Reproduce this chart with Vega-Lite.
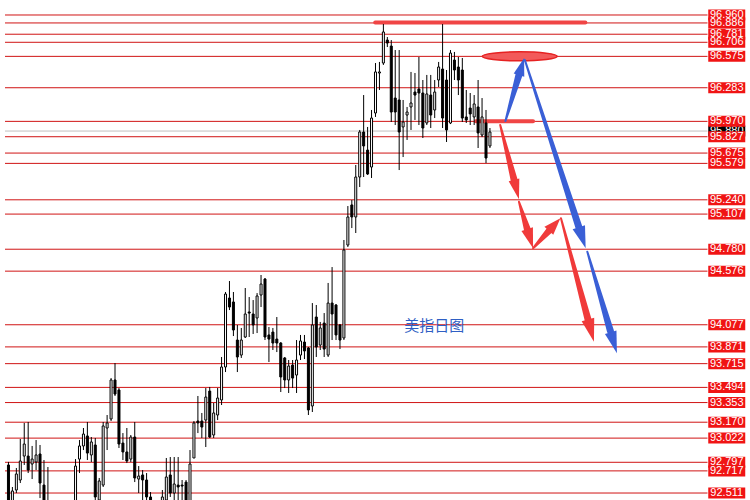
{
"$schema": "https://vega.github.io/schema/vega-lite/v6.json",
"width": 750, "height": 500, "padding": 0, "autosize": {"type": "none"},
"background": "white",
"config": {"view": {"stroke": null}},
"datasets": {
"levels": [{"v":92.511},{"v":92.717},{"v":92.797},{"v":93.022},{"v":93.170},{"v":93.353},{"v":93.494},{"v":93.715},{"v":93.871},{"v":94.077},{"v":94.576},{"v":94.780},{"v":95.107},{"v":95.240},{"v":95.579},{"v":95.675},{"v":95.827},{"v":95.970},{"v":96.283},{"v":96.575},{"v":96.706},{"v":96.781},{"v":96.886},{"v":96.960}],
"current": [{"v":95.880}],
"zones": [{"x1":92.925,"x2":146.175,"v":96.890},{"x1":118.425,"x2":132.925,"v":95.970}],
"target": [{"x":129.55,"v":96.575}],
"note": [{"x":107.875,"v":94.065,"t":"美指日图"}],
"arrows": [
{"arrow":"b1","scenario":"rebound","seq":0,"part":"tail","x":125.925,"p":95.973},
{"arrow":"b1","scenario":"rebound","seq":1,"part":"neck","x":129.325,"p":96.400},
{"arrow":"b1","scenario":"rebound","seq":2,"part":"tip","x":130.675,"p":96.560},
{"arrow":"b2","scenario":"rebound","seq":0,"part":"tail","x":130.85,"p":96.541},
{"arrow":"b2","scenario":"rebound","seq":1,"part":"neck","x":144.55,"p":94.983},
{"arrow":"b2","scenario":"rebound","seq":2,"part":"tip","x":146.25,"p":94.789},
{"arrow":"b3","scenario":"rebound","seq":0,"part":"tail","x":146.675,"p":94.757},
{"arrow":"b3","scenario":"rebound","seq":1,"part":"neck","x":152.525,"p":94.019},
{"arrow":"b3","scenario":"rebound","seq":2,"part":"tip","x":154.175,"p":93.811},
{"arrow":"r1","scenario":"drop","seq":0,"part":"tail","x":124.6,"p":95.936},
{"arrow":"r1","scenario":"drop","seq":1,"part":"neck","x":128.15,"p":95.421},
{"arrow":"r1","scenario":"drop","seq":2,"part":"tip","x":129.35,"p":95.245},
{"arrow":"r2","scenario":"drop","seq":0,"part":"tail","x":129.35,"p":95.222},
{"arrow":"r2","scenario":"drop","seq":1,"part":"neck","x":131.525,"p":94.958},
{"arrow":"r2","scenario":"drop","seq":2,"part":"tip","x":132.925,"p":94.789},
{"arrow":"r3","scenario":"drop","seq":0,"part":"tail","x":132.925,"p":94.789},
{"arrow":"r3","scenario":"drop","seq":1,"part":"neck","x":137.15,"p":94.959},
{"arrow":"r3","scenario":"drop","seq":2,"part":"tip","x":139.85,"p":95.068},
{"arrow":"r4","scenario":"drop","seq":0,"part":"tail","x":140.0,"p":95.068},
{"arrow":"r4","scenario":"drop","seq":1,"part":"neck","x":146.925,"p":94.115},
{"arrow":"r4","scenario":"drop","seq":2,"part":"tip","x":148.35,"p":93.919}
],
"candles": [
{"i":0,"o":92.772,"h":92.800,"l":92.334,"c":92.399},
{"i":1,"o":92.390,"h":92.567,"l":92.353,"c":92.530},
{"i":2,"o":92.539,"h":92.744,"l":92.511,"c":92.688},
{"i":3,"o":92.632,"h":93.014,"l":92.604,"c":92.809},
{"i":4,"o":92.855,"h":93.163,"l":92.772,"c":92.967},
{"i":5,"o":92.855,"h":93.172,"l":92.697,"c":92.725},
{"i":6,"o":92.781,"h":92.949,"l":92.641,"c":92.827},
{"i":7,"o":92.800,"h":93.004,"l":92.725,"c":92.865},
{"i":8,"o":92.874,"h":92.958,"l":92.464,"c":92.604},
{"i":9,"o":92.585,"h":92.818,"l":92.353,"c":92.399},
{"i":10,"o":92.399,"h":92.753,"l":92.260,"c":92.334},
{"i":11,"o":92.334,"h":92.399,"l":92.167,"c":92.241},
{"i":12,"o":92.241,"h":92.353,"l":92.074,"c":92.148},
{"i":13,"o":92.148,"h":92.334,"l":92.027,"c":92.278},
{"i":14,"o":92.278,"h":92.371,"l":92.120,"c":92.194},
{"i":15,"o":92.194,"h":92.362,"l":92.074,"c":92.316},
{"i":16,"o":92.316,"h":92.409,"l":92.185,"c":92.353},
{"i":17,"o":92.371,"h":92.827,"l":92.334,"c":92.762},
{"i":18,"o":92.827,"h":93.004,"l":92.697,"c":92.949},
{"i":19,"o":92.949,"h":93.116,"l":92.911,"c":93.060},
{"i":20,"o":93.042,"h":93.172,"l":92.818,"c":92.883},
{"i":21,"o":92.865,"h":93.032,"l":92.800,"c":92.986},
{"i":22,"o":92.958,"h":93.023,"l":92.427,"c":92.474},
{"i":23,"o":92.446,"h":92.651,"l":92.399,"c":92.623},
{"i":24,"o":92.585,"h":93.172,"l":92.567,"c":93.135},
{"i":25,"o":93.116,"h":93.237,"l":92.911,"c":93.163},
{"i":26,"o":93.200,"h":93.581,"l":93.181,"c":93.563},
{"i":27,"o":93.563,"h":93.721,"l":93.414,"c":93.432},
{"i":28,"o":93.470,"h":93.488,"l":92.930,"c":92.967},
{"i":29,"o":92.976,"h":93.069,"l":92.818,"c":92.893},
{"i":30,"o":92.893,"h":93.116,"l":92.790,"c":92.809},
{"i":31,"o":92.827,"h":93.051,"l":92.800,"c":93.032},
{"i":32,"o":93.032,"h":93.172,"l":92.613,"c":92.651},
{"i":33,"o":92.641,"h":92.762,"l":92.511,"c":92.669},
{"i":34,"o":92.679,"h":92.725,"l":92.446,"c":92.632},
{"i":35,"o":92.632,"h":92.697,"l":92.418,"c":92.474},
{"i":36,"o":92.474,"h":92.520,"l":92.353,"c":92.399},
{"i":37,"o":92.399,"h":92.418,"l":92.278,"c":92.334},
{"i":38,"o":92.334,"h":92.409,"l":92.260,"c":92.390},
{"i":39,"o":92.390,"h":92.539,"l":92.353,"c":92.474},
{"i":40,"o":92.446,"h":92.837,"l":92.418,"c":92.660},
{"i":41,"o":92.679,"h":92.846,"l":92.474,"c":92.511},
{"i":42,"o":92.511,"h":92.846,"l":92.446,"c":92.595},
{"i":43,"o":92.585,"h":92.846,"l":92.446,"c":92.567},
{"i":44,"o":92.585,"h":92.632,"l":92.446,"c":92.576},
{"i":45,"o":92.613,"h":92.632,"l":92.399,"c":92.446},
{"i":46,"o":92.427,"h":92.911,"l":92.399,"c":92.781},
{"i":47,"o":92.837,"h":93.181,"l":92.837,"c":93.163},
{"i":48,"o":93.181,"h":93.414,"l":93.069,"c":93.163},
{"i":49,"o":93.181,"h":93.256,"l":93.023,"c":93.125},
{"i":50,"o":93.190,"h":93.488,"l":92.939,"c":93.404},
{"i":51,"o":93.460,"h":93.498,"l":93.023,"c":93.032},
{"i":52,"o":93.051,"h":93.349,"l":93.023,"c":93.256},
{"i":53,"o":93.237,"h":93.488,"l":93.190,"c":93.395},
{"i":54,"o":93.377,"h":93.777,"l":93.330,"c":93.684},
{"i":55,"o":93.684,"h":94.382,"l":93.637,"c":94.363},
{"i":56,"o":94.326,"h":94.484,"l":94.214,"c":94.242},
{"i":57,"o":94.289,"h":94.382,"l":93.972,"c":94.028},
{"i":58,"o":93.935,"h":94.075,"l":93.637,"c":93.777},
{"i":59,"o":93.795,"h":94.047,"l":93.768,"c":93.935},
{"i":60,"o":93.963,"h":94.419,"l":93.954,"c":94.177},
{"i":61,"o":94.196,"h":94.335,"l":93.963,"c":94.186},
{"i":62,"o":94.177,"h":94.307,"l":93.991,"c":94.075},
{"i":63,"o":94.140,"h":94.372,"l":94.000,"c":94.345},
{"i":64,"o":94.354,"h":94.540,"l":94.242,"c":94.456},
{"i":65,"o":94.503,"h":94.512,"l":93.935,"c":93.963},
{"i":66,"o":93.982,"h":94.056,"l":93.730,"c":93.944},
{"i":67,"o":94.009,"h":94.047,"l":93.842,"c":93.907},
{"i":68,"o":93.944,"h":94.149,"l":93.823,"c":93.907},
{"i":69,"o":93.907,"h":93.916,"l":93.451,"c":93.591},
{"i":70,"o":93.768,"h":93.777,"l":93.488,"c":93.563},
{"i":71,"o":93.563,"h":93.749,"l":93.442,"c":93.693},
{"i":72,"o":93.702,"h":93.749,"l":93.488,"c":93.581},
{"i":73,"o":93.609,"h":93.935,"l":93.442,"c":93.749},
{"i":74,"o":93.795,"h":93.982,"l":93.749,"c":93.926},
{"i":75,"o":93.916,"h":93.982,"l":93.758,"c":93.833},
{"i":76,"o":93.861,"h":93.870,"l":93.237,"c":93.284},
{"i":77,"o":93.321,"h":94.279,"l":93.265,"c":94.075},
{"i":78,"o":94.149,"h":94.261,"l":93.777,"c":93.870},
{"i":79,"o":93.888,"h":94.103,"l":93.842,"c":94.047},
{"i":80,"o":94.093,"h":94.186,"l":93.777,"c":93.851},
{"i":81,"o":93.795,"h":94.466,"l":93.777,"c":94.279},
{"i":82,"o":94.279,"h":94.614,"l":93.935,"c":94.177},
{"i":83,"o":94.261,"h":94.270,"l":93.935,"c":93.982},
{"i":84,"o":94.075,"h":94.084,"l":93.851,"c":93.935},
{"i":85,"o":93.954,"h":94.866,"l":93.935,"c":94.773},
{"i":86,"o":94.819,"h":95.182,"l":94.801,"c":95.080},
{"i":87,"o":95.192,"h":95.238,"l":94.977,"c":95.080},
{"i":88,"o":95.080,"h":95.564,"l":94.931,"c":95.452},
{"i":89,"o":95.452,"h":95.890,"l":95.359,"c":95.871},
{"i":90,"o":95.871,"h":96.215,"l":95.452,"c":95.741},
{"i":91,"o":95.703,"h":95.918,"l":95.471,"c":95.480},
{"i":92,"o":95.545,"h":96.076,"l":95.443,"c":96.001},
{"i":93,"o":96.048,"h":96.513,"l":96.011,"c":96.430},
{"i":94,"o":96.420,"h":96.523,"l":96.262,"c":96.430},
{"i":95,"o":96.513,"h":96.876,"l":96.495,"c":96.802},
{"i":96,"o":96.727,"h":96.755,"l":96.662,"c":96.699},
{"i":97,"o":96.671,"h":96.727,"l":95.964,"c":96.057},
{"i":98,"o":96.187,"h":96.634,"l":95.936,"c":96.057},
{"i":99,"o":96.169,"h":96.634,"l":95.517,"c":95.871},
{"i":100,"o":95.918,"h":96.169,"l":95.638,"c":95.964},
{"i":101,"o":96.029,"h":96.104,"l":95.797,"c":96.057},
{"i":102,"o":96.104,"h":96.430,"l":95.890,"c":96.141},
{"i":103,"o":96.243,"h":96.420,"l":95.983,"c":96.215},
{"i":104,"o":96.271,"h":96.569,"l":95.936,"c":96.234},
{"i":105,"o":96.234,"h":96.355,"l":95.815,"c":95.908},
{"i":106,"o":95.955,"h":96.402,"l":95.936,"c":96.225},
{"i":107,"o":96.215,"h":96.402,"l":95.908,"c":96.029},
{"i":108,"o":96.076,"h":96.355,"l":96.001,"c":96.243},
{"i":109,"o":96.355,"h":96.523,"l":96.290,"c":96.476},
{"i":110,"o":96.457,"h":96.876,"l":95.908,"c":96.001},
{"i":111,"o":96.355,"h":96.448,"l":95.778,"c":95.890},
{"i":112,"o":95.955,"h":96.634,"l":95.945,"c":96.606},
{"i":113,"o":96.541,"h":96.616,"l":96.355,"c":96.448},
{"i":114,"o":96.476,"h":96.569,"l":96.215,"c":96.355},
{"i":115,"o":96.448,"h":96.560,"l":95.964,"c":96.001},
{"i":116,"o":96.011,"h":96.262,"l":95.955,"c":95.983},
{"i":117,"o":96.094,"h":96.234,"l":95.936,"c":96.039},
{"i":118,"o":96.011,"h":96.215,"l":95.936,"c":96.132},
{"i":119,"o":96.104,"h":96.355,"l":95.722,"c":95.862},
{"i":120,"o":95.843,"h":96.187,"l":95.824,"c":96.011},
{"i":121,"o":95.955,"h":96.076,"l":95.582,"c":95.629},
{"i":122,"o":95.741,"h":95.908,"l":95.722,"c":95.871}
]
},
"layer": [
{"data": {"name": "levels"},
 "mark": {"type": "rule", "color": "#d01414", "strokeWidth": 1},
 "encoding": {
  "x": {"datum": -0.875, "type": "quantitative", "scale": {"domain": [-0.875, 186.625], "nice": false, "zero": false}, "axis": null},
  "x2": {"datum": 177.125},
  "y": {"field": "v", "type": "quantitative", "scale": {"domain": [92.446, 97.0996], "nice": false, "zero": false},
   "axis": {"orient": "right", "offset": -38, "values": [92.645,92.95,93.255,93.565,93.87,94.18,94.485,94.795,95.1,95.405,95.715,96.02,96.325,96.63,96.935], "format": ".3f", "title": null, "grid": false, "domainColor": "#000000", "domainWidth": 1, "tickColor": "#000000", "tickSize": 3, "labelColor": "#000000", "labelFont": "Liberation Sans", "labelFontSize": 11, "labelPadding": 1, "labelOverlap": false, "labelFlush": false, "labelBound": false}}
 }},
{"data": {"name": "current"},
 "mark": {"type": "rule", "color": "#c0c0c0", "strokeWidth": 1},
 "encoding": {
  "x": {"datum": -0.875, "type": "quantitative", "scale": {"domain": [-0.875, 186.625], "nice": false, "zero": false}, "axis": null},
  "x2": {"datum": 177.125},
  "y": {"field": "v", "type": "quantitative", "scale": {"domain": [92.446, 97.0996], "nice": false, "zero": false}, "axis": null}
 }},
{"data": {"name": "zones"},
 "mark": {"type": "rule", "color": "#f04545", "strokeWidth": 4, "strokeCap": "round"},
 "encoding": {
  "x": {"field": "x1", "type": "quantitative", "scale": {"domain": [-0.875, 186.625], "nice": false, "zero": false}, "axis": null},
  "x2": {"field": "x2"},
  "y": {"field": "v", "type": "quantitative", "scale": {"domain": [92.446, 97.0996], "nice": false, "zero": false}, "axis": null}
 }},
{"data": {"name": "target"},
 "mark": {"type": "point", "filled": true, "shape": "M-1,0A1,0.12,0,1,0,1,0A1,0.12,0,1,0,-1,0Z", "size": 5625, "fill": "#f25a5a", "stroke": "#e62222", "strokeWidth": 1.5, "opacity": 1},
 "encoding": {
  "x": {"field": "x", "type": "quantitative", "scale": {"domain": [-0.875, 186.625], "nice": false, "zero": false}, "axis": null},
  "y": {"field": "v", "type": "quantitative", "scale": {"domain": [92.446, 97.0996], "nice": false, "zero": false}, "axis": null}
 }},
{"data": {"name": "candles"},
 "mark": {"type": "rule", "color": "#000000", "strokeWidth": 1, "clip": true},
 "encoding": {
  "x": {"field": "i", "type": "quantitative", "scale": {"domain": [-0.875, 186.625], "nice": false, "zero": false}, "axis": null},
  "y": {"field": "l", "type": "quantitative", "scale": {"domain": [92.446, 97.0996], "nice": false, "zero": false}, "axis": null},
  "y2": {"field": "h"}
 }},
{"data": {"name": "candles"},
 "mark": {"type": "bar", "width": 2, "stroke": "#000000", "strokeWidth": 1, "clip": true},
 "encoding": {
  "x": {"field": "i", "type": "quantitative", "scale": {"domain": [-0.875, 186.625], "nice": false, "zero": false}, "axis": null},
  "y": {"field": "o", "type": "quantitative", "scale": {"domain": [92.446, 97.0996], "nice": false, "zero": false}, "axis": null},
  "y2": {"field": "c"},
  "fill": {"condition": {"test": "datum.c > datum.o", "value": "#ffffff"}, "value": "#000000"}
 }},
{"data": {"name": "arrows"},
 "transform": [{"filter": "datum.part != 'tip'"}],
 "mark": {"type": "trail"},
 "encoding": {
  "x": {"field": "x", "type": "quantitative", "scale": {"domain": [-0.875, 186.625], "nice": false, "zero": false}, "axis": null},
  "y": {"field": "p", "type": "quantitative", "scale": {"domain": [92.446, 97.0996], "nice": false, "zero": false}, "axis": null},
  "detail": {"field": "arrow", "type": "nominal"},
  "order": {"field": "seq", "type": "quantitative"},
  "color": {"field": "scenario", "type": "nominal", "scale": {"domain": ["rebound", "drop"], "range": ["#3a5fd6", "#f03a3a"]}, "legend": null},
  "size": {"field": "part", "type": "ordinal", "scale": {"type": "ordinal", "domain": ["tail", "neck"], "range": [2, 7]}, "legend": null}
 }},
{"data": {"name": "arrows"},
 "transform": [{"filter": "datum.part == 'tip'"}],
 "mark": {"type": "point", "filled": true, "size": 400, "opacity": 1, "strokeWidth": 0},
 "encoding": {
  "x": {"field": "x", "type": "quantitative", "scale": {"domain": [-0.875, 186.625], "nice": false, "zero": false}, "axis": null},
  "y": {"field": "p", "type": "quantitative", "scale": {"domain": [92.446, 97.0996], "nice": false, "zero": false}, "axis": null},
  "color": {"field": "scenario", "type": "nominal", "scale": {"domain": ["rebound", "drop"], "range": ["#3a5fd6", "#f03a3a"]}, "legend": null},
  "shape": {"field": "arrow", "type": "nominal", "scale": {"domain": ["b1","b2","b3","r1","r2","r3","r4"], "range": [
    "M0,0L0.006,1.882L-1.046,1.564Z",
    "M0,0L-1.302,-1.889L-0.066,-2.293Z",
    "M0,0L-1.198,-1.940L-0.048,-2.280Z",
    "M0,0L-1.029,-1.802L0.037,-2.074Z",
    "M0,0L-1.162,-1.738L-0.014,-2.090Z",
    "M0,0L-0.713,1.657L-1.595,0.843Z",
    "M0,0L-1.228,-2.051L0.028,-2.391Z"]}, "legend": null}
 }},
{"data": {"name": "note"},
 "mark": {"type": "text", "font": "Noto Sans CJK SC", "fontSize": 15, "color": "#2f5fc4", "align": "center", "baseline": "middle"},
 "encoding": {
  "x": {"field": "x", "type": "quantitative", "scale": {"domain": [-0.875, 186.625], "nice": false, "zero": false}, "axis": null},
  "y": {"field": "v", "type": "quantitative", "scale": {"domain": [92.446, 97.0996], "nice": false, "zero": false}, "axis": null},
  "text": {"field": "t"}
 }},
{"data": {"name": "current"},
 "mark": {"type": "point", "filled": true, "shape": "M-1,-0.297L1,-0.297L1,0.297L-1,0.297Z", "size": 1369, "fill": "#000000", "opacity": 1, "strokeWidth": 0},
 "encoding": {
  "x": {"datum": 182.0, "type": "quantitative", "scale": {"domain": [-0.875, 186.625], "nice": false, "zero": false}, "axis": null},
  "y": {"field": "v", "type": "quantitative", "scale": {"domain": [92.446, 97.0996], "nice": false, "zero": false}, "axis": null}
 }},
{"data": {"name": "current"},
 "mark": {"type": "text", "font": "Liberation Sans", "fontSize": 11, "color": "#ffffff", "align": "center", "baseline": "middle"},
 "encoding": {
  "x": {"datum": 182.0, "type": "quantitative", "scale": {"domain": [-0.875, 186.625], "nice": false, "zero": false}, "axis": null},
  "y": {"field": "v", "type": "quantitative", "scale": {"domain": [92.446, 97.0996], "nice": false, "zero": false}, "axis": null},
  "text": {"field": "v", "type": "quantitative", "format": ".3f"}
 }},
{"data": {"name": "levels"},
 "mark": {"type": "point", "filled": true, "shape": "M-1,-0.297L1,-0.297L1,0.297L-1,0.297Z", "size": 1369, "fill": "#f01414", "opacity": 1, "strokeWidth": 0},
 "encoding": {
  "x": {"datum": 182.0, "type": "quantitative", "scale": {"domain": [-0.875, 186.625], "nice": false, "zero": false}, "axis": null},
  "y": {"field": "v", "type": "quantitative", "scale": {"domain": [92.446, 97.0996], "nice": false, "zero": false}, "axis": null}
 }},
{"data": {"name": "levels"},
 "mark": {"type": "text", "font": "Liberation Sans", "fontSize": 11, "color": "#ffffff", "align": "center", "baseline": "middle"},
 "encoding": {
  "x": {"datum": 182.0, "type": "quantitative", "scale": {"domain": [-0.875, 186.625], "nice": false, "zero": false}, "axis": null},
  "y": {"field": "v", "type": "quantitative", "scale": {"domain": [92.446, 97.0996], "nice": false, "zero": false}, "axis": null},
  "text": {"field": "v", "type": "quantitative", "format": ".3f"}
 }}
]
}
